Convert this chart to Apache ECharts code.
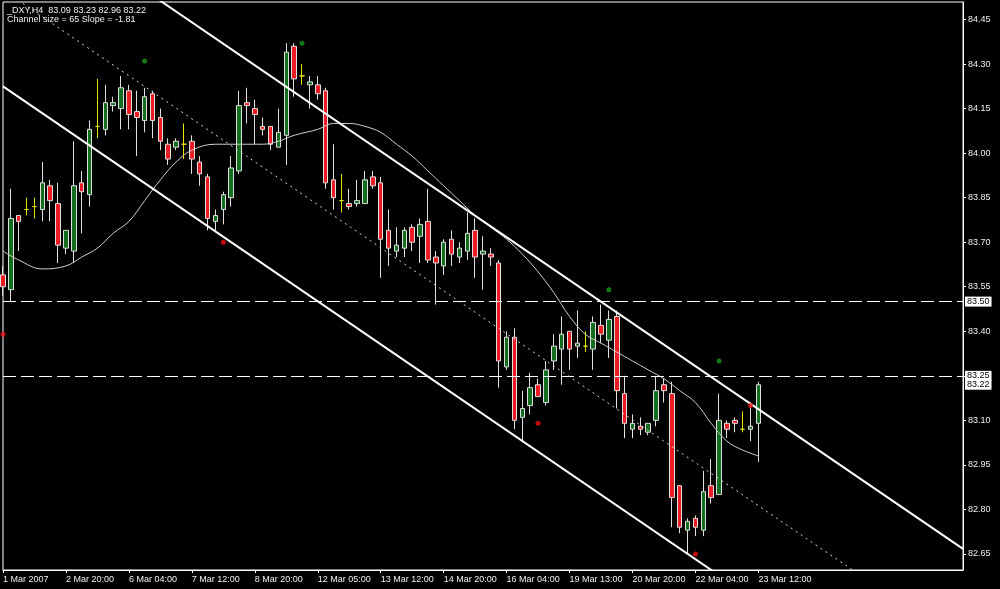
<!DOCTYPE html>
<html>
<head>
<meta charset="utf-8">
<script src="https://cdn.jsdelivr.net/npm/echarts@6/dist/echarts.min.js"></script>
<style>
html,body{margin:0;padding:0;background:#000;}
#chart{width:1000px;height:589px;}
</style>
</head>
<body>
<div id="chart"></div>
<script>
// ---------- data ----------
const symbolTitle = '_DXY,H4  83.09 83.23 82.96 83.22';
const channelTitle = 'Channel size = 65 Slope = -1.81';

const tickLabels = ['1 Mar 2007','2 Mar 20:00','6 Mar 04:00','7 Mar 12:00','8 Mar 20:00','12 Mar 05:00',
  '13 Mar 12:00','14 Mar 20:00','16 Mar 04:00','19 Mar 13:00','20 Mar 20:00','22 Mar 04:00','23 Mar 12:00'];
const barsPerLabel = 8;
const barSlots = 123; // bars + empty chart shift on the right

const open = [83.59,83.54,83.79,83.81,83.82,83.81,83.89,83.83,83.68,83.67,
  83.90,83.86,84.09,84.08,84.16,84.15,84.21,84.14,84.11,84.20,
  84.12,84.03,84.02,84.03,84.04,83.97,83.92,83.77,83.81,83.85,
  83.94,84.17,84.15,84.09,84.09,84.02,84.06,84.36,84.26,84.23,
  84.23,84.21,83.91,83.84,83.83,83.83,83.83,83.92,83.90,83.74,
  83.67,83.68,83.75,83.72,83.77,83.65,83.62,83.71,83.65,83.67,
  83.74,83.66,83.66,83.63,83.28,83.38,83.11,83.15,83.22,83.16,
  83.30,83.34,83.40,83.35,83.35,83.34,83.42,83.37,83.45,83.19,
  83.07,83.08,83.06,83.10,83.22,83.19,82.88,82.73,82.77,82.73,
  82.88,82.85,83.09,83.10,83.07,83.07,83.09];
const high = [83.62,83.88,83.79,83.85,83.85,83.97,83.91,83.90,83.74,84.04,
  83.94,84.11,84.25,84.23,84.19,84.26,84.23,84.21,84.22,84.21,
  84.15,84.05,84.05,84.10,84.06,83.99,83.93,83.81,83.87,83.99,
  84.21,84.22,84.18,84.12,84.09,84.15,84.37,84.37,84.30,84.26,
  84.26,84.22,84.03,83.93,83.88,83.91,83.94,83.94,83.92,83.81,
  83.75,83.75,83.76,83.78,83.88,83.67,83.71,83.74,83.70,83.80,
  83.78,83.72,83.68,83.64,83.40,83.41,83.20,83.26,83.24,83.30,
  83.39,83.45,83.40,83.47,83.40,83.45,83.49,83.47,83.47,83.25,
  83.12,83.11,83.09,83.25,83.24,83.23,82.88,82.77,82.78,82.93,
  82.97,83.19,83.10,83.11,83.13,83.16,83.23];
const low = [83.52,83.50,83.67,83.79,83.78,83.77,83.77,83.63,83.66,83.63,
  83.73,83.82,84.05,84.06,84.14,84.08,84.08,83.99,84.07,84.05,
  84.01,83.96,84.01,83.98,83.93,83.89,83.74,83.74,83.76,83.82,
  83.93,84.10,84.03,84.06,84.01,84.02,83.96,84.19,84.23,84.15,
  84.18,83.88,83.81,83.80,83.81,83.82,83.83,83.88,83.58,83.62,
  83.65,83.65,83.67,83.63,83.63,83.49,83.59,83.62,83.63,83.64,
  83.58,83.54,83.62,83.21,83.27,83.07,83.03,83.12,83.18,83.15,
  83.27,83.22,83.27,83.31,83.33,83.27,83.36,83.31,83.14,83.04,
  83.04,83.05,83.05,83.08,83.16,82.74,82.72,82.65,82.71,82.71,
  82.82,82.85,83.04,83.06,83.06,83.03,82.96];
const close = [83.55,83.78,83.77,83.81,83.82,83.90,83.84,83.69,83.74,83.89,
  83.87,84.08,84.09,84.17,84.17,84.22,84.13,84.12,84.19,84.11,
  84.04,83.98,84.04,84.03,83.98,83.93,83.78,83.79,83.86,83.95,
  84.16,84.16,84.13,84.08,84.03,84.07,84.34,84.25,84.26,84.24,
  84.20,83.90,83.85,83.84,83.82,83.84,83.91,83.89,83.71,83.68,
  83.69,83.74,83.70,83.76,83.64,83.63,83.70,83.66,83.68,83.73,
  83.65,83.67,83.65,83.30,83.38,83.10,83.14,83.21,83.18,83.27,
  83.35,83.39,83.34,83.36,83.35,83.43,83.39,83.44,83.20,83.09,
  83.09,83.07,83.09,83.20,83.20,82.84,82.74,82.76,82.74,82.86,
  82.84,83.10,83.07,83.09,83.07,83.08,83.22];

// smoothed moving average, [bar, price]
const maLine = [[0,83.67],[2,83.64],[5,83.61],[8,83.62],[10,83.65],[12,83.68],[14,83.73],[16,83.77],
  [18,83.84],[20,83.91],[22,83.97],[24,84.01],[27,84.03],[30,84.03],[33,84.03],[35,84.04],[37,84.06],
  [40,84.08],[42,84.10],[44,84.10],[46,84.09],[48,84.07],[50,84.03],[52,83.99],[54,83.94],[56,83.89],
  [58,83.84],[60,83.79],[62,83.75],[64,83.71],[66,83.66],[68,83.60],[70,83.53],[72,83.45],[74,83.39],
  [76,83.36],[78,83.33],[80,83.30],[82,83.27],[84,83.24],[86,83.20],[88,83.16],[90,83.09],[92,83.03],
  [94,83.00],[96,82.98]];

// regression channel (endpoints, [bar, price])
const channelUpper = [[0,84.875],[122,82.667]];
const channelMiddle = [[0,84.55],[122,82.342]];
const channelLower = [[0,84.225],[122,82.017]];

const levelLines = [83.50, 83.25];
const bidPrice = 83.22;

const greenDots = [[18,84.31],[38,84.37],[77,83.54],[91,83.30]];
const redDots = [[0,83.39],[28,83.70],[68,83.09],[88,82.65],[95,83.15]];

const yTickValues = [82.65,82.80,82.95,83.10,83.25,83.40,83.55,83.70,83.85,84.00,84.15,84.30,84.45];
const yLabelValues = [82.65,82.80,82.95,83.10,83.40,83.55,83.70,83.85,84.00,84.15,84.30,84.45];
const yMin = 82.596, yMax = 84.509;

// ---------- chart ----------
const FONT = 'Liberation Sans';
const TEXT = '#f0f0f0';
const BULL = '#146c1e', BEAR = '#ec1c24', EDGE = '#e0e0e0', DOJI = '#e5e500';

const categories = Array.from({length: barSlots}, (_, i) => String(i));
const candleData = open.map((o, i) => {
  const v = [o, close[i], low[i], high[i]];
  if (o === close[i]) {
    return {value: v, itemStyle: {color: DOJI, color0: DOJI, borderColor: DOJI, borderColor0: DOJI}};
  }
  return v;
});
const lastTickIndex = (tickLabels.length - 1) * barsPerLabel;
const isTick = (idx) => idx % barsPerLabel === 0 && idx <= lastTickIndex;

const chart = echarts.init(document.getElementById('chart'), null, {renderer: 'canvas'});
chart.setOption({
  backgroundColor: '#000',
  animation: false,
  title: {
    text: symbolTitle + '\n' + channelTitle,
    left: 7, top: 6, padding: 0,
    textStyle: {color: TEXT, fontSize: 9, fontWeight: 'normal', fontFamily: FONT, lineHeight: 9}
  },
  grid: {left: 2, right: 37, top: 2, bottom: 19, show: true, borderColor: '#ffffff', borderWidth: 1, backgroundColor: '#000'},
  xAxis: {
    type: 'category', data: categories, boundaryGap: false,
    axisLine: {show: true, lineStyle: {color: '#ffffff'}},
    axisTick: {show: true, length: 3, interval: isTick, lineStyle: {color: '#ffffff'}},
    axisLabel: {
      show: true, interval: isTick, align: 'left', margin: 5,
      color: TEXT, fontSize: 9, fontFamily: FONT,
      formatter: (v, idx) => (isTick(idx) ? tickLabels[idx / barsPerLabel] : '')
    },
    splitLine: {show: false}
  },
  yAxis: {
    type: 'value', position: 'right', min: yMin, max: yMax, scale: true,
    axisLine: {show: true, lineStyle: {color: '#ffffff'}},
    axisTick: {show: true, length: 3, customValues: yTickValues, lineStyle: {color: '#ffffff'}},
    axisLabel: {
      show: true, customValues: yLabelValues, margin: 5,
      color: TEXT, fontSize: 9, fontFamily: FONT,
      formatter: (v) => Number(v).toFixed(2)
    },
    splitLine: {show: false}
  },
  series: [
    {
      type: 'candlestick', data: candleData, barWidth: 5, z: 3,
      itemStyle: {color: BULL, color0: BEAR, borderColor: EDGE, borderColor0: EDGE, borderWidth: 1, borderColorDoji: DOJI},
      markLine: {
        silent: true, symbol: ['none', 'none'], animation: false,
        lineStyle: {color: '#ffffff', width: 1, type: [13, 5]},
        label: {
          show: true, position: 'end', distance: 2,
          formatter: (p) => Number(p.value).toFixed(2),
          backgroundColor: '#ffffff', color: '#000000', fontSize: 9, fontFamily: FONT,
          padding: [1, 2, 0, 2], lineHeight: 9
        },
        data: levelLines.map(v => ({yAxis: v})).concat([{yAxis: bidPrice, lineStyle: {color: 'rgba(0,0,0,0)'}}])
      }
    },
    {
      type: 'line', data: maLine, smooth: 0.4, showSymbol: false, z: 4,
      lineStyle: {color: '#cfcfcf', width: 1}
    },
    {
      type: 'line', data: channelUpper, showSymbol: false, z: 5, clip: true,
      lineStyle: {color: '#ffffff', width: 2}
    },
    {
      type: 'line', data: channelMiddle, showSymbol: false, z: 5, clip: true,
      lineStyle: {color: '#d8d8d8', width: 1, type: [2, 4]}
    },
    {
      type: 'line', data: channelLower, showSymbol: false, z: 5, clip: true,
      lineStyle: {color: '#ffffff', width: 2}
    },
    {
      type: 'scatter', data: greenDots, symbolSize: 5, z: 6,
      itemStyle: {color: '#159a15'}
    },
    {
      type: 'scatter', data: redDots, symbolSize: 5, z: 6,
      itemStyle: {color: '#f01010'}
    }
  ]
});
</script>
</body>
</html>
